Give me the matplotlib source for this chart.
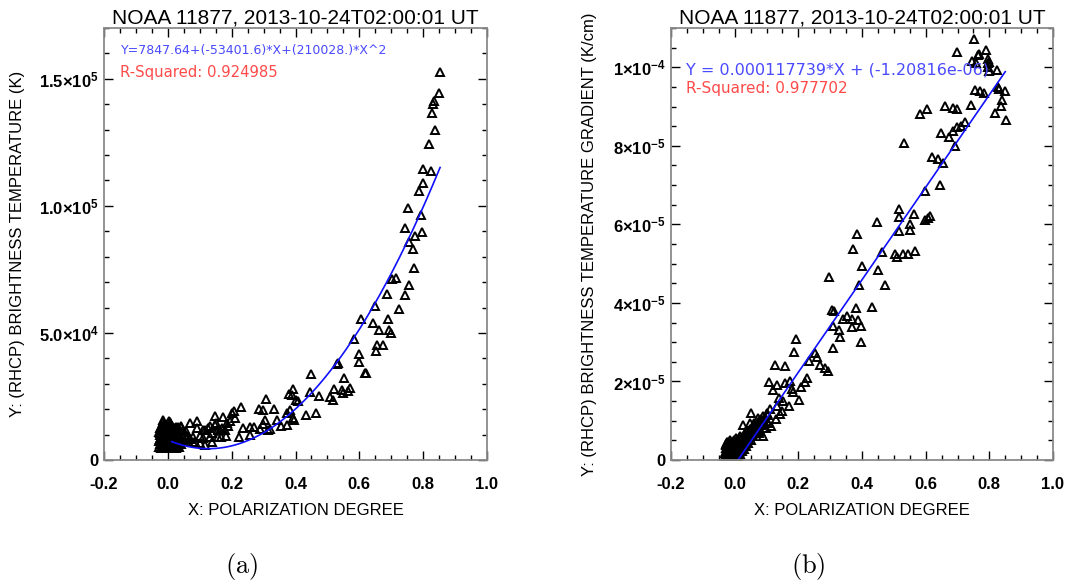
import matplotlib
matplotlib.use('Agg')
import matplotlib.pyplot as plt
from matplotlib.ticker import FixedLocator, MultipleLocator
import numpy as np

plt.rcParams['font.family'] = ['Liberation Sans', 'DejaVu Sans']
plt.rcParams['mathtext.fontset'] = 'custom'
plt.rcParams['mathtext.rm'] = 'Liberation Sans:bold'
plt.rcParams['mathtext.it'] = 'Liberation Sans:bold'
plt.rcParams['mathtext.bf'] = 'Liberation Sans:bold'

TITLE = 'NOAA 11877, 2013-10-24T02:00:01 UT'
XLABEL = 'X: POLARIZATION DEGREE'
YLABEL_A = 'Y: (RHCP) BRIGHTNESS TEMPERATURE (K)'
YLABEL_B = 'Y: (RHCP) BRIGHTNESS TEMPERATURE GRADIENT (K/cm)'

x_ticks = [-0.2, 0.0, 0.2, 0.4, 0.6, 0.8, 1.0]
x_ticklabels = ['-0.2', '0.0', '0.2', '0.4', '0.6', '0.8', '1.0']

ya_ticks = [0, 5.0e4, 1.0e5, 1.5e5]
ya_ticklabels = ['0', '5.0×10$^{4}$', '1.0×10$^{5}$', '1.5×10$^{5}$']
yb_ticks = [0, 2e-5, 4e-5, 6e-5, 8e-5, 1e-4]
yb_ticklabels = ['0', '2×10$^{-5}$', '4×10$^{-5}$', '6×10$^{-5}$',
                 '8×10$^{-5}$', '1×10$^{-4}$']

# Panel (a): polarization degree vs brightness temperature (K)
# dense group of low-polarization pixels
a_core_x = [-0.028, -0.027, -0.026, -0.025, -0.022, -0.021, -0.020, -0.019, -0.018,
            -0.016, -0.015, -0.014, -0.013, -0.012, -0.011, -0.009, -0.008, -0.007,
            -0.006, -0.005, -0.003, -0.002, 0.000, 0.001, 0.002, 0.003, 0.005, 0.006,
            0.007, 0.008, 0.009, 0.010, 0.012, 0.013, 0.014, 0.015, 0.016, 0.018,
            0.019, 0.020, 0.021, 0.022, 0.024, 0.025, 0.026, 0.027, 0.029, 0.030,
            0.031, 0.032, 0.034, 0.035, 0.036, 0.038, 0.040, 0.042, 0.043, 0.045,
            0.047, 0.050, 0.053, 0.056, 0.058,
            -0.026, -0.024, -0.023, -0.021, -0.019, -0.017, -0.017, -0.015, -0.014,
            -0.013, -0.011, -0.010, -0.009, -0.007, -0.005, -0.004, -0.003, -0.001,
            0.000, 0.002, 0.004, 0.004, 0.006, 0.008, 0.010, 0.011, 0.012, 0.014,
            0.016, 0.017, 0.018, 0.020, 0.022, 0.023, 0.024, 0.026, 0.028, 0.028,
            0.030, 0.033, 0.026, 0.012, -0.002, -0.016, -0.025, -0.027]
a_core_y = [5200, 7400, 9800, 12600, 4900, 6800, 8900, 11200, 13500,
            15600, 5600, 7900, 10300, 12400, 14300, 4800, 6500, 8600,
            11000, 13000, 5400, 7300, 9500, 11800, 14000, 15300, 4900, 6300,
            8100, 10200, 12300, 13900, 5500, 7200, 9300, 11200, 13000, 4800,
            6600, 8500, 10600, 12600, 5300, 7500, 9700, 11900, 6000, 8200,
            10400, 12800, 5100, 7000, 9100, 11300, 13000, 6300, 8000, 10000,
            12000, 7400, 9800, 11500, 8600,
            6200, 8300, 10700, 12900, 5800, 7600, 9900, 12000, 14800,
            6400, 8400, 10800, 13600, 5600, 7700, 9600, 12500, 14700,
            6200, 8300, 10600, 12900, 14800, 5700, 7500, 9400, 11600, 6100,
            8200, 10100, 12100, 5600, 7200, 9300, 11000, 12800, 5200, 7000,
            9200, 11800, 4700, 4600, 4700, 4600, 8400, 11000]

# scattered pixels
a_x = [0.853, 0.850, 0.834, 0.830, 0.828, 0.838, 0.818, 0.798, 0.825, 0.799,
       0.787, 0.752, 0.794, 0.742, 0.796, 0.774, 0.756, 0.767, 0.770, 0.702,
       0.715, 0.756, 0.687, 0.743, 0.649, 0.723, 0.606, 0.689, 0.643, 0.661,
       0.693, 0.699, 0.584, 0.654, 0.673, 0.651, 0.598, 0.600, 0.618, 0.622,
       0.529, 0.534, 0.450, 0.552, 0.521, 0.546, 0.571, 0.565, 0.550, 0.508,
       0.518, 0.445, 0.474, 0.433, 0.464, 0.393, 0.380, 0.388, 0.403, 0.407,
       0.309, 0.286, 0.299, 0.333, 0.382, 0.372, 0.393, 0.396, 0.341, 0.306,
       0.299, 0.356, 0.372, 0.314, 0.320, 0.229, 0.207, 0.212, 0.147, 0.173,
       0.236, 0.257, 0.271, 0.288, 0.223, 0.259, 0.185, 0.189, 0.194, 0.170,
       0.179, 0.148, 0.156, 0.132, 0.181, 0.158, 0.116, 0.126, 0.069, 0.092,
       0.109, 0.090, 0.040, 0.079, 0.100, 0.111, 0.132, 0.062, 0.069, 0.079,
       0.100, 0.116, 0.150, 0.200, 0.163, 0.137, 0.085, 0.137, 0.168]
a_y = [152700, 144300, 141300, 140200, 136600, 129800, 124500, 114400, 113800, 109200,
       106000, 99300, 96300, 91100, 89800, 88000, 85800, 83200, 75500, 71300,
       71600, 69000, 65200, 65100, 60700, 59300, 55400, 55300, 53900, 51100,
       51100, 49900, 47800, 45100, 45100, 42900, 41600, 38700, 34300, 34300,
       37900, 38300, 33900, 32200, 28000, 27400, 28400, 27000, 26400, 24700,
       23800, 26600, 25300, 17800, 18500, 28100, 26000, 25500, 23800, 23100,
       24000, 20100, 19500, 20100, 19800, 18500, 16500, 15600, 15800, 15800,
       14100, 13500, 13900, 11900, 12200, 20700, 19100, 16500, 17500, 16900,
       12600, 12900, 12800, 12300, 9200, 9800, 14500, 13200, 15200, 12400,
       11900, 13900, 11900, 13200, 9500, 9200, 11900, 12600, 14500, 15400,
       11900, 12600, 13200, 9200, 9500, 8600, 9200, 9600, 8300, 6900,
       6600, 5900, 14500, 18500, 11900, 10600, 7200, 7200, 9200]

# quadratic fit quoted on the panel
fit_a = (7847.64, -53401.6, 210028.)
fit_a_range = (0.012, 0.853)
r2_a = 0.924985

# Panel (b): polarization degree vs temperature gradient (K/cm)
b_core_x = [-0.030, -0.029, -0.028, -0.027, -0.024, -0.023, -0.022, -0.021, -0.020,
            -0.017, -0.016, -0.015, -0.014, -0.011, -0.010, -0.009, -0.008, -0.007,
            -0.004, -0.003, -0.002, -0.001, 0.002, 0.003, 0.004, 0.005, 0.006,
            0.009, 0.010, 0.011, 0.012, 0.013, 0.016, 0.017, 0.018, 0.019,
            0.022, 0.023, 0.024, 0.025, 0.028, 0.029, 0.030, 0.032,
            0.035, 0.036, 0.038, 0.040, 0.043, 0.045, 0.047, 0.050, 0.052,
            0.055, 0.058, 0.060, 0.063, 0.066, 0.070, 0.074, 0.078, 0.082,
            0.086, 0.090, 0.095, 0.100, 0.105, 0.110,
            -0.029, -0.028, -0.026, -0.025, -0.023, -0.021, -0.019, -0.018, -0.016,
            -0.014, -0.013, -0.012, -0.010, -0.008, -0.006, -0.005, -0.004, -0.002,
            0.000, 0.001, 0.002, 0.003, 0.005, 0.007, 0.008, 0.009, 0.010,
            0.014, 0.015, 0.016, 0.017, 0.020, 0.021, 0.022, 0.026, 0.027, 0.028,
            0.033, 0.034, 0.038, 0.041, 0.044, 0.048, 0.056, 0.062, 0.068, 0.072,
            0.076, 0.084, 0.092, 0.098]
b_core_y = [0.05e-5, 0.18e-5, 0.31e-5, 0.42e-5, 0.03e-5, 0.14e-5, 0.26e-5, 0.38e-5, 0.46e-5,
            0.08e-5, 0.20e-5, 0.33e-5, 0.44e-5, 0.02e-5, 0.12e-5, 0.25e-5, 0.36e-5, 0.45e-5,
            0.06e-5, 0.17e-5, 0.29e-5, 0.40e-5, 0.03e-5, 0.13e-5, 0.24e-5, 0.35e-5, 0.48e-5,
            0.09e-5, 0.20e-5, 0.32e-5, 0.45e-5, 0.56e-5, 0.15e-5, 0.27e-5, 0.39e-5, 0.52e-5,
            0.22e-5, 0.34e-5, 0.47e-5, 0.60e-5, 0.29e-5, 0.41e-5, 0.55e-5, 0.66e-5,
            0.36e-5, 0.49e-5, 0.62e-5, 0.74e-5, 0.44e-5, 0.58e-5, 0.70e-5, 0.52e-5, 0.65e-5,
            0.78e-5, 0.60e-5, 0.84e-5, 0.72e-5, 0.90e-5, 0.80e-5, 0.96e-5, 0.88e-5, 1.05e-5,
            0.98e-5, 1.12e-5, 1.06e-5, 1.20e-5, 1.14e-5, 1.30e-5,
            0.10e-5, 0.24e-5, 0.37e-5, 0.47e-5, 0.05e-5, 0.20e-5, 0.32e-5, 0.42e-5, 0.50e-5,
            0.10e-5, 0.22e-5, 0.35e-5, 0.46e-5, 0.05e-5, 0.15e-5, 0.28e-5, 0.40e-5, 0.52e-5,
            0.08e-5, 0.20e-5, 0.33e-5, 0.45e-5, 0.57e-5, 0.12e-5, 0.26e-5, 0.38e-5, 0.52e-5,
            0.20e-5, 0.33e-5, 0.46e-5, 0.60e-5, 0.28e-5, 0.40e-5, 0.54e-5, 0.35e-5, 0.48e-5, 0.62e-5,
            0.42e-5, 0.56e-5, 0.50e-5, 0.64e-5, 0.52e-5, 0.80e-5, 0.66e-5, 0.95e-5, 0.85e-5, 1.08e-5,
            0.70e-5, 0.90e-5, 1.00e-5, 0.82e-5]

b_x = [0.752, 0.768, 0.765, 0.789, 0.797, 0.800, 0.795, 0.745, 0.758, 0.797,
       0.800, 0.825, 0.755, 0.771, 0.784, 0.826, 0.831, 0.849, 0.839, 0.837,
       0.742, 0.818, 0.852, 0.699, 0.660, 0.687, 0.697, 0.582, 0.603, 0.724,
       0.712, 0.697, 0.685, 0.673, 0.648, 0.693, 0.531, 0.619, 0.640, 0.653,
       0.646, 0.598, 0.446, 0.383, 0.517, 0.517, 0.563, 0.614, 0.598, 0.608,
       0.551, 0.551, 0.517, 0.373, 0.462, 0.504, 0.509, 0.530, 0.545, 0.567,
       0.401, 0.449, 0.296, 0.391, 0.472, 0.381, 0.430, 0.305, 0.313, 0.352,
       0.339, 0.368, 0.388, 0.310, 0.329, 0.368, 0.397, 0.331, 0.396, 0.193,
       0.308, 0.187, 0.127, 0.158, 0.109, 0.134, 0.158, 0.174, 0.179, 0.184,
       0.119, 0.226, 0.221, 0.208, 0.202, 0.252, 0.258, 0.234, 0.268, 0.284,
       0.294, 0.140, 0.153, 0.134, 0.148, 0.142, 0.172, 0.130, 0.050, 0.027,
       0.048, 0.036, 0.048, 0.079, 0.090, 0.106, 0.114, 0.079, 0.090]
b_y = [10.71e-5, 10.33e-5, 10.31e-5, 10.44e-5, 10.20e-5, 10.14e-5, 10.11e-5, 10.16e-5, 10.10e-5, 10.01e-5,
       9.90e-5, 9.93e-5, 9.42e-5, 9.40e-5, 9.34e-5, 9.49e-5, 9.45e-5, 9.40e-5, 9.17e-5, 9.02e-5,
       9.04e-5, 8.84e-5, 8.67e-5, 10.40e-5, 9.02e-5, 8.97e-5, 8.94e-5, 8.80e-5, 8.94e-5, 8.61e-5,
       8.50e-5, 8.47e-5, 8.38e-5, 8.22e-5, 8.33e-5, 8.00e-5, 8.07e-5, 7.71e-5, 7.67e-5, 7.56e-5,
       7.01e-5, 6.86e-5, 6.07e-5, 5.75e-5, 6.39e-5, 6.20e-5, 6.26e-5, 6.22e-5, 6.11e-5, 6.17e-5,
       6.01e-5, 5.86e-5, 5.82e-5, 5.38e-5, 5.29e-5, 5.25e-5, 5.16e-5, 5.24e-5, 5.24e-5, 5.33e-5,
       4.93e-5, 4.85e-5, 4.66e-5, 4.46e-5, 4.46e-5, 3.87e-5, 3.90e-5, 3.83e-5, 3.79e-5, 3.66e-5,
       3.60e-5, 3.58e-5, 3.56e-5, 3.42e-5, 3.32e-5, 3.39e-5, 3.40e-5, 3.13e-5, 3.01e-5, 3.08e-5,
       2.86e-5, 2.74e-5, 2.43e-5, 2.39e-5, 1.99e-5, 1.92e-5, 1.95e-5, 2.01e-5, 1.80e-5, 1.73e-5,
       1.77e-5, 2.09e-5, 1.98e-5, 1.85e-5, 1.54e-5, 2.73e-5, 2.62e-5, 2.53e-5, 2.43e-5, 2.35e-5,
       2.26e-5, 1.59e-5, 1.50e-5, 1.37e-5, 1.25e-5, 1.16e-5, 1.37e-5, 1.05e-5, 1.19e-5, 0.88e-5,
       0.93e-5, 0.75e-5, 0.75e-5, 1.03e-5, 0.91e-5, 0.93e-5, 0.86e-5, 0.74e-5, 0.61e-5]

# linear fit quoted on the panel
fit_b = (0.000117739, -1.20816e-06)
fit_b_range = (0.0, 0.850)
r2_b = 0.977702

W, H = 1073, 587
fig = plt.figure(figsize=(W / 100, H / 100), dpi=100)
axA = fig.add_axes([104 / W, (H - 460) / H, 383 / W, 432 / H])
axB = fig.add_axes([671 / W, (H - 460) / H, 382 / W, 432 / H])

TRI = dict(marker='^', linestyle='none', markersize=6.4, markerfacecolor='none',
           markeredgecolor='black', markeredgewidth=1.4, clip_on=True)
FIT = dict(color='#1010ff', linewidth=1.2)
BLUE_TXT = '#4a4aff'
RED_TXT = '#ff4a4a'
NOTE_FONT = ['DejaVu Sans']


def style_axes(ax, ymax, y_ticks, y_labels, y_minor):
    ax.set_xlim(-0.2, 1.0)
    ax.set_ylim(0, ymax)
    ax.xaxis.set_major_locator(FixedLocator(x_ticks))
    ax.set_xticklabels(x_ticklabels)
    ax.xaxis.set_minor_locator(MultipleLocator(0.05))
    ax.yaxis.set_major_locator(FixedLocator(y_ticks))
    ax.set_yticklabels(y_labels)
    ax.yaxis.set_minor_locator(MultipleLocator(y_minor))
    ax.tick_params(which='both', direction='in', top=True, right=True,
                   color='black', width=1.0)
    ax.tick_params(which='major', length=6.5, labelsize=12)
    ax.tick_params(which='minor', length=3.6)
    ax.tick_params(axis='x', which='major', pad=12)
    ax.tick_params(axis='y', which='major', pad=4)
    for lab in ax.get_xticklabels() + ax.get_yticklabels():
        lab.set_fontweight('bold')
    for sp in ax.spines.values():
        sp.set_color('#8a8a8a')
        sp.set_linewidth(1.3)
    ax.text(0.5, -0.118, XLABEL, transform=ax.transAxes, ha='center', va='center',
            fontsize=12)
    ax.set_title(TITLE, fontsize=15, pad=2.5)


# panel (a)
axA.plot(a_core_x, a_core_y, **TRI)
axA.plot(a_x, a_y, **TRI)
xa = np.linspace(fit_a_range[0], fit_a_range[1], 200)
axA.plot(xa, fit_a[0] + fit_a[1] * xa + fit_a[2] * xa ** 2, **FIT)
style_axes(axA, 1.7e5, ya_ticks, ya_ticklabels, 1.0e4)
axA.set_ylabel(YLABEL_A, fontsize=12)
axA.yaxis.set_label_coords(-0.206, 0.5)
axA.text(0.043, 0.947,
         'Y=%.2f+(%.1f)*X+(%.0f.)*X^2' % fit_a, family=NOTE_FONT,
         transform=axA.transAxes, color=BLUE_TXT, fontsize=9.0, va='center')
axA.text(0.043, 0.898, 'R-Squared: %.6f' % r2_a, family=NOTE_FONT,
         transform=axA.transAxes, color=RED_TXT, fontsize=10.7, va='center')

# panel (b)
axB.plot(b_core_x, b_core_y, **TRI)
axB.plot(b_x, b_y, **TRI)
xb = np.linspace(fit_b_range[0], fit_b_range[1], 200)
axB.plot(xb, fit_b[0] * xb + fit_b[1], **FIT)
style_axes(axB, 1.1e-4, yb_ticks, yb_ticklabels, 5e-6)
axB.set_ylabel(YLABEL_B, fontsize=12)
axB.yaxis.set_label_coords(-0.194, 0.5)
axB.text(0.04, 0.902, 'Y = 0.000117739*X + (-1.20816e-06)', family=NOTE_FONT,
         transform=axB.transAxes, color=BLUE_TXT, fontsize=11.5, va='center')
axB.text(0.04, 0.86, 'R-Squared: %.6f' % r2_b, family=NOTE_FONT,
         transform=axB.transAxes, color=RED_TXT, fontsize=11.0, va='center')

# sub-figure captions
fig.text(242 / W, 1 - 567 / H, r'$\mathrm{(a)}$', math_fontfamily='cm',
         fontsize=19, ha='center', va='center')
fig.text(808 / W, 1 - 567 / H, r'$\mathrm{(b)}$', math_fontfamily='cm',
         fontsize=19, ha='center', va='center')

fig.savefig('out.png', dpi=100)
